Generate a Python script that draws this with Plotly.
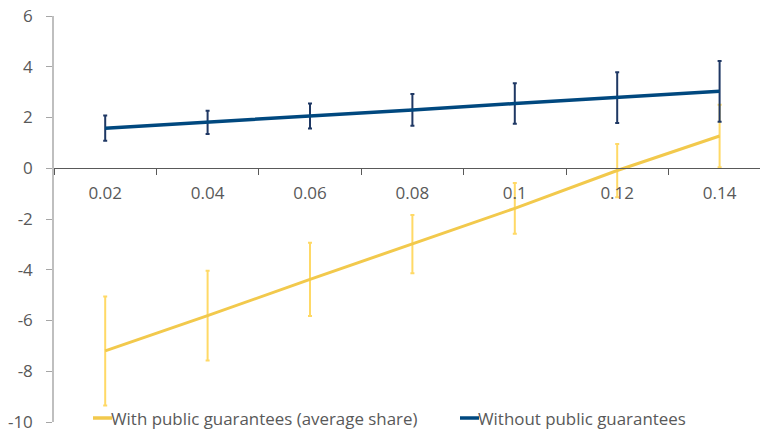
import plotly.graph_objects as go

# Share categories on the horizontal axis
shares = ["0.02", "0.04", "0.06", "0.08", "0.1", "0.12", "0.14"]

# Effect with public guarantees (average share) and its error half-widths
with_pg = [-7.2, -5.81, -4.38, -2.99, -1.58, -0.09, 1.27]
with_pg_err = [2.15, 1.77, 1.44, 1.15, 1.0, 1.05, 1.23]

# Effect without public guarantees and its error half-widths
without_pg = [1.58, 1.81, 2.06, 2.30, 2.55, 2.78, 3.03]
without_pg_err = [0.50, 0.46, 0.49, 0.63, 0.80, 1.00, 1.20]

# Vertical axis ticks, labelled with a plain hyphen for negatives
y_ticks = [-10, -8, -6, -4, -2, 0, 2, 4, 6]
y_tick_labels = ["-10", "-8", "-6", "-4", "-2", "0", "2", "4", "6"]

series_names = ["With public guarantees (average share)", "Without public guarantees"]

YELLOW = "#F2C94C"
YELLOW_ERR = "#FFD966"
BLUE = "#00487F"
BLUE_ERR = "#1F3864"
TEXT = "#595959"
FONT = "Open Sans"
SIZE = 17

W, H = 760, 432
L, R, T, B = 54, 0, 16, 10
plot_w = W - L - R
plot_h = H - T - B

fig = go.Figure()
fig.add_trace(go.Scatter(
    x=shares, y=with_pg, mode="lines", name=series_names[0],
    line=dict(color=YELLOW, width=3),
    error_y=dict(type="data", array=with_pg_err, visible=True,
                 color=YELLOW_ERR, thickness=2, width=2),
    showlegend=False,
))
fig.add_trace(go.Scatter(
    x=shares, y=without_pg, mode="lines", name=series_names[1],
    line=dict(color=BLUE, width=3.5),
    error_y=dict(type="data", array=without_pg_err, visible=True,
                 color=BLUE_ERR, thickness=2, width=2),
    showlegend=False,
))

# Legend drawn as short line samples followed by text (paper coords span the plot area)
legend_items = [(series_names[0], YELLOW, 93), (series_names[1], BLUE, 460)]
legend_y = (H - B - 418) / plot_h
for name, color, px in legend_items:
    x0 = (px - L) / plot_w
    x1 = (px + 19 - L) / plot_w
    fig.add_shape(type="line", xref="paper", yref="paper",
                  x0=x0, x1=x1, y0=legend_y, y1=legend_y,
                  line=dict(color=color, width=3.5))
    fig.add_annotation(xref="paper", yref="paper", x=x1, y=legend_y,
                       text=name, showarrow=False, xanchor="left", yanchor="middle",
                       xshift=-3, font=dict(family=FONT, size=16.9, color=TEXT))

fig.update_layout(
    width=W, height=H,
    margin=dict(l=L, r=R, t=T, b=B),
    paper_bgcolor="white", plot_bgcolor="white",
    font=dict(family=FONT, size=SIZE, color=TEXT),
    xaxis=dict(
        type="category", tickson="boundaries", ticks="outside", ticklen=6,
        tickcolor=TEXT, showline=True, linecolor=TEXT, linewidth=1,
        showgrid=False, anchor="free", position=10 / 16,
        range=[-0.5, -0.5 + plot_w / 102.4],
        ticklabelstandoff=9, tickfont=dict(family=FONT, size=SIZE, color=TEXT),
    ),
    yaxis=dict(
        range=[-10, 6], tickmode="array", tickvals=y_ticks, ticktext=y_tick_labels,
        ticks="outside", ticklen=6, ticklabeloverflow="allow",
        tickcolor="#A6A6A6", showline=True, linecolor="#BFBFBF", linewidth=1.5,
        showgrid=False, zeroline=False, ticklabelstandoff=10,
        tickfont=dict(family=FONT, size=SIZE, color=TEXT),
    ),
)

fig.write_html("out.html")
